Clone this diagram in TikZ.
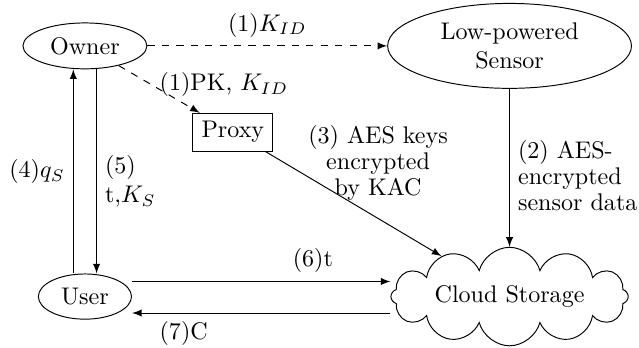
\documentclass[tikz,border=0pt]{standalone}
\usepackage{amsmath}
\usepackage{tikz}
\usetikzlibrary{arrows.meta, shapes.geometric, shapes.symbols}

\begin{document}
\begin{tikzpicture}[>=latex]
  \tikzset{
    party/.style={draw, ellipse, inner sep=1pt},
    msg/.style={font=\linespread{0.9}\selectfont},
  }
  \useasboundingbox (0,0) rectangle (9.33,-5.08);

  %--------------------------
  % Parties
  %--------------------------
  \node[party, minimum width=1.81cm, minimum height=0.67cm] (owner) at (1.24,-0.67) {Owner};
  \node[party, minimum width=3.56cm, minimum height=1.24cm, align=center] (sensor) at (7.44,-0.67) {Low-powered\\Sensor};
  \node[draw, minimum width=1.17cm, minimum height=0.55cm] (proxy) at (3.40,-1.93) {Proxy};
  \node[party, minimum width=1.36cm, minimum height=0.66cm] (user) at (1.24,-4.33) {User};
  \node[draw, cloud, cloud puffs=12, cloud ignores aspect] (cloud) at (7.44,-4.33) {Cloud Storage};

  %--------------------------
  % Key distribution
  %--------------------------
  \draw[->, dashed] (owner) -- (sensor) node[midway, above] {(1)$K_{ID}$};
  \draw[->, dashed] (owner) -- (proxy) node[midway, anchor=west, inner sep=0pt, yshift=2pt] {(1)PK, $K_{ID}$};

  % Owner <-> User
  \draw[->] ([xshift=0.17cm]owner.south) -- ([xshift=0.17cm]owner.south |- user.north)
    node[pos=0.55, right, align=left] {(5)\\t,$K_S$};
  \draw[->] ([xshift=-0.17cm]user.north) -- ([xshift=-0.17cm]user.north |- owner.south)
    node[midway, left] {(4)$q_S$};

  %--------------------------
  % Uploads to the cloud
  %--------------------------
  \draw[->] (sensor) -- (cloud) node[pos=0.55, right, msg, align=left] {(2) AES-\\encrypted\\sensor data};
  \draw[->] (proxy) -- (cloud) node[midway, above, xshift=0.36cm, yshift=-2pt, msg, align=center] {(3) AES keys\\encrypted\\by KAC};

  % User <-> Cloud
  \draw[->] ([yshift=0.22cm]user.east) -- ([yshift=0.22cm]user.east -| cloud.west)
    node[pos=0.7, above] {(6)t};
  \draw[->] ([yshift=-0.24cm]cloud.west) -- ([yshift=-0.24cm]cloud.west -| user.east)
    node[pos=0.8, below] {(7)C};

\end{tikzpicture}
\end{document}
